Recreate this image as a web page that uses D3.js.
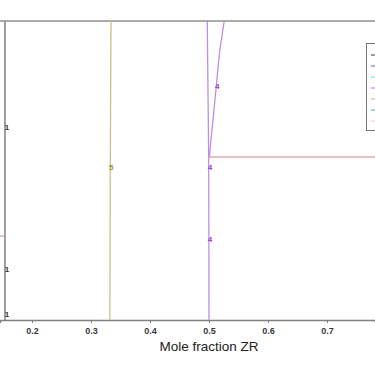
<!DOCTYPE html>
<html><head><meta charset="utf-8">
<script src="https://cdn.jsdelivr.net/npm/d3@7/dist/d3.min.js"></script>
<style>body{margin:0;background:#fff}svg{display:block}</style>
</head><body>
<script>
// ---- data ----
const xTicks = [0.2, 0.3, 0.4, 0.5, 0.6, 0.7];
const xDomain = [0.1458, 0.7814];
const yDomain = [1500, 3000]; // temperature (not shown)
const line1 = [[0.1542, 1500], [0.1542, 3000]];
const line5 = [[0.332, 1500], [0.3328, 2300], [0.3339, 3000]];
const line4a = [[0.5, 1500], [0.4995, 2318], [0.4983, 2654], [0.4971, 3000]];
const line4b = [[0.5008, 2318], [0.5025, 2378], [0.5068, 2503], [0.5124, 2674], [0.5186, 2855], [0.5259, 3000]];
const redLeft = [[0.1458, 1921], [0.1542, 1921]];
const redRight = [[0.5, 2318], [0.7814, 2318]];
const labels1 = [[0.1542, 2468], [0.1542, 1756], [0.1542, 1530]];
const labels5 = [[0.3328, 2268]];
const labels4 = [[0.5124, 2674], [0.5, 2268], [0.5, 1904]];
const legendColors = ["#555555", "#7a7ab8", "#7fe0e0", "#b98ad6", "#c8c27a", "#6fb3b3", "#f0d0d8"];
const xTitle = "Mole fraction ZR";

// ---- chart ----
(function () {
const W = 375, H = 366;
const plotTop = 21, plotBottom = 320;
const svg = d3.select("body").append("svg").attr("width", W).attr("height", H);
const x = d3.scaleLinear().domain(xDomain).range([0, W]);
const y = d3.scaleLinear().domain(yDomain).range([plotBottom, plotTop]);
const line = d3.line().x(d => x(d[0])).y(d => y(d[1]));
const curve = d3.line().x(d => x(d[0])).y(d => y(d[1])).curve(d3.curveMonotoneY);

// top border
svg.append("line").attr("x1", 0).attr("x2", W).attr("y1", plotTop).attr("y2", plotTop)
  .attr("stroke", "#8f8f8f").attr("stroke-width", 1.6);

// bottom axis
const ax = svg.append("g").attr("transform", `translate(0,${plotBottom})`)
  .call(d3.axisBottom(x).tickValues(xTicks).tickSize(3).tickPadding(5).tickFormat(d3.format(".1f")));
ax.select(".domain").attr("stroke", "#808080").attr("stroke-width", 1.4);
ax.selectAll(".tick line").attr("stroke", "#808080");
ax.selectAll(".tick text").attr("font-family", "Arial, Liberation Sans, sans-serif")
  .attr("font-size", 9).attr("font-weight", "bold").attr("fill", "#3a3a3a");

svg.append("text").attr("x", x(0.5)).attr("y", 351).attr("text-anchor", "middle")
  .attr("font-family", "Arial, Liberation Sans, sans-serif").attr("font-size", 13.5).attr("fill", "#222")
  .text(xTitle);

// lines
svg.append("path").attr("d", line(redLeft)).attr("fill", "none").attr("stroke", "#d99a9a").attr("stroke-width", 1.1);
svg.append("path").attr("d", line(redRight)).attr("fill", "none").attr("stroke", "#d58484").attr("stroke-width", 1.1);
svg.append("path").attr("d", line(line1)).attr("fill", "none").attr("stroke", "#959595").attr("stroke-width", 1.8);
svg.append("path").attr("d", curve(line5)).attr("fill", "none").attr("stroke", "#cbc088").attr("stroke-width", 1.3);
svg.append("path").attr("d", curve(line4a)).attr("fill", "none").attr("stroke", "#c08ce4").attr("stroke-width", 1.3);
svg.append("path").attr("d", curve(line4b)).attr("fill", "none").attr("stroke", "#c08ce4").attr("stroke-width", 1.3);

// labels
const lab = (data, txt, color, dx) => svg.selectAll(null).data(data).enter().append("text")
  .attr("x", d => x(d[0]) + dx).attr("y", d => y(d[1]) + 3)
  .attr("font-family", "Arial, Liberation Sans, sans-serif").attr("font-size", 8).attr("font-weight", "bold")
  .attr("text-anchor", "middle").attr("fill", color).text(txt);
lab(labels1, "1", "#333", 2);
lab(labels5, "5", "#9a942e", 1);
lab(labels4, "4", "#9a40d0", 1);

// legend
svg.append("rect").attr("x", 366.5).attr("y", 43.5).attr("width", 20).attr("height", 87)
  .attr("fill", "#fff").attr("stroke", "#777").attr("stroke-width", 1);
svg.selectAll(null).data(legendColors).enter().append("line")
  .attr("x1", 371).attr("x2", 380).attr("y1", (d, i) => 55 + i * 11).attr("y2", (d, i) => 55 + i * 11)
  .attr("stroke", d => d).attr("stroke-width", 1.2);
})();
</script>
</body></html>
